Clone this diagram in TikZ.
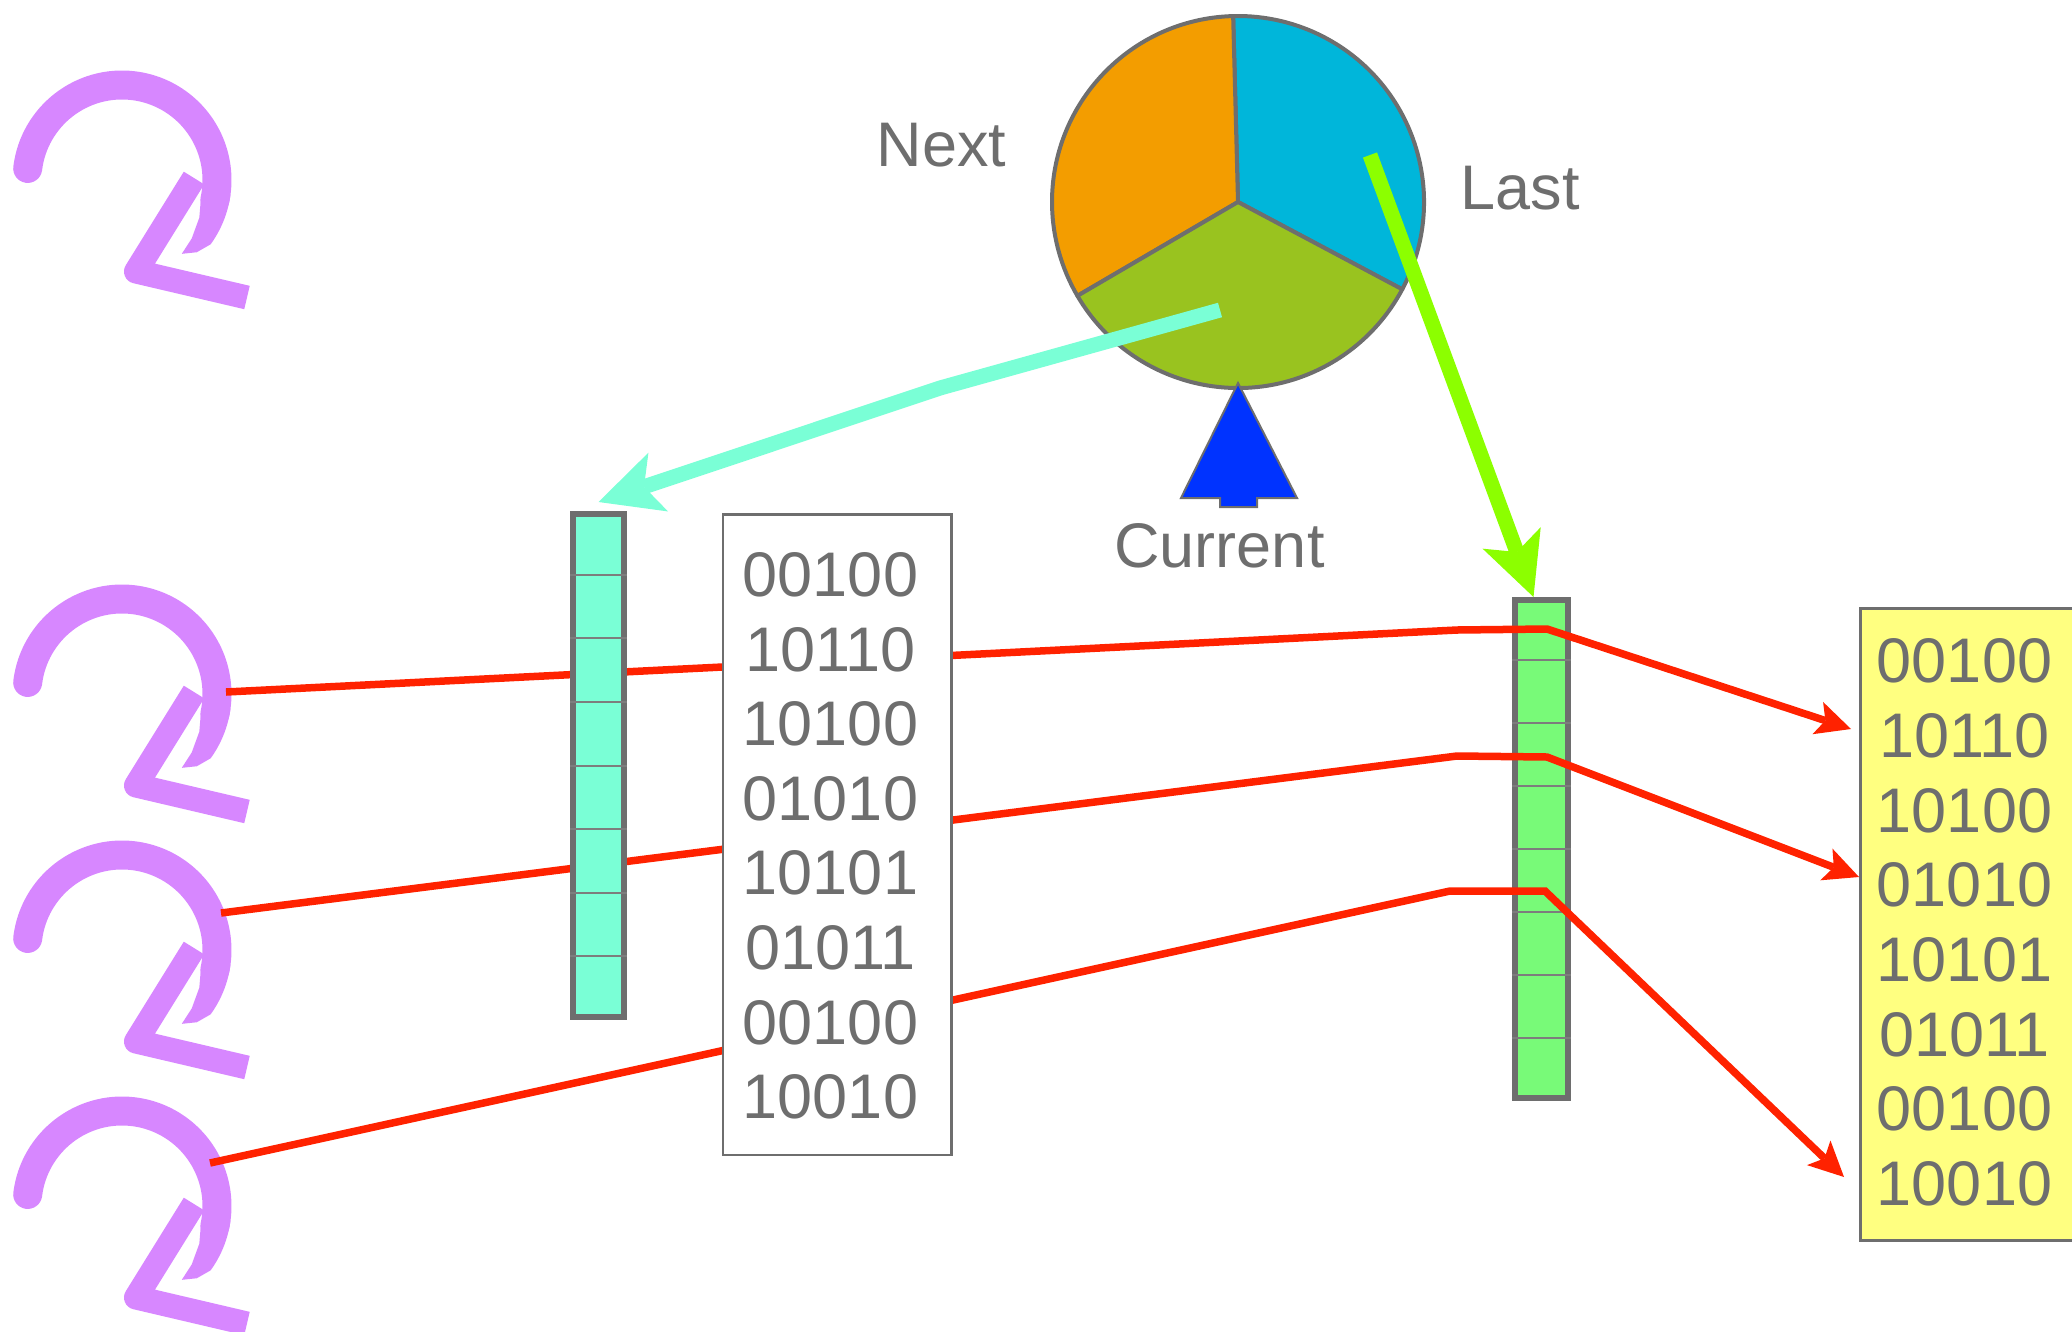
\documentclass[tikz,border=0pt]{standalone}
\usepackage{fontspec}
\setmainfont{Liberation Sans}
\usetikzlibrary{arrows.meta}

\definecolor{ink}{HTML}{6E6E6E}
\definecolor{brushpurple}{HTML}{D787FF}
\definecolor{sliceorange}{HTML}{F39D00}
\definecolor{sliceblue}{HTML}{00B6DA}
\definecolor{slicegreen}{HTML}{99C31F}
\definecolor{arrowaqua}{HTML}{7AFFD6}
\definecolor{arrowlime}{HTML}{8CFF00}
\definecolor{stripgreen}{HTML}{78FA78}
\definecolor{paleyellow}{HTML}{FFFF80}
\definecolor{wirered}{HTML}{FF2200}
\definecolor{pointerblue}{HTML}{0033FF}

\tikzstyle{word} = [text=ink, inner sep=0pt, font=\fontsize{63}{75}\selectfont]
\tikzstyle{frame} = [draw=ink, line width=2.5pt, inner sep=0pt]
\tikzstyle{strip} = [draw=ink, line width=6pt, inner sep=0pt]
\tikzstyle{divider} = [draw=ink!90, line width=2pt]
\tikzstyle{slice} = [draw=ink, line width=4pt, line join=round]
\tikzstyle{wire} = [draw=wirered, line width=7.5pt, -{Stealth[length=35pt, width=34pt, inset=8pt, line width=0pt]}]
\tikzstyle{fat} = [line width=15pt, -{Stealth[length=63pt, width=62pt, inset=15pt, line width=0pt]}]

\tikzset{
  pics/brushtwo/.style={code={
    % bowl, thinning out at its lower end
    \draw[brushpurple, line width=29pt, line cap=round] (173:95pt) arc[start angle=173, end angle=-12, radius=95pt];
    \fill[brushpurple] (-8:109.5pt) arc[start angle=-8, end angle=-36, radius=109.5pt] -- (-44:104pt) -- (-51:95pt)
      -- (-40:91pt) -- (-26:86pt) -- (-10:80.5pt) -- cycle;
    % stem and foot
    \draw[brushpurple, line width=24pt, line join=round] (72,2) -- (14,-91.5) -- (125,-117.5);
  }}
}

\begin{document}
\begin{tikzpicture}[x=1pt, y=1pt]
\useasboundingbox (0,0) rectangle (2072,-1331);

% painted twos on the left
\pic (twoA) at (122,-180) {brushtwo};
\pic (twoB) at (122,-694) {brushtwo};
\pic (twoC) at (122,-950) {brushtwo};
\pic (twoD) at (122,-1206) {brushtwo};

% right strip and the table behind it
\node[strip, fill=stripgreen, minimum width=53pt, minimum height=498pt] (rcol) at (1541.5,-849) {};
\foreach \k in {1,...,7}
  \draw[divider] (1512,{-597-63*\k}) -- (1571,{-597-63*\k});

\node[frame, line width=3pt, fill=paleyellow, minimum width=300pt, minimum height=632pt, anchor=north west] (ybox) at (1858.5,-606.5) {};
\foreach \bits [count=\i] in {00100,10110,10100,01010,10101,01011,00100,10010}
  \node[word] (yrow\i) at (1964.5,{-661-74.7*(\i-1)}) {\bits};

% red wires
\coordinate (srcA) at (226,-692);
\coordinate (srcB) at (221,-913);
\coordinate (srcC) at (210,-1163);
\coordinate (inA) at (1457,-630);
\coordinate (outA) at (1547,-629);
\coordinate (inB) at (1457,-756);
\coordinate (outB) at (1547,-757);
\coordinate (inC) at (1450,-891);
\coordinate (outC) at (1545,-891);
\coordinate (tipA) at (1851,-729);
\coordinate (tipB) at (1859,-877);
\coordinate (tipC) at (1844,-1177);

\draw[wire] (srcA) -- (inA) -- (outA) -- (tipA);
\draw[wire] (srcB) -- (inB) -- (outB) -- (tipB);
\draw[wire] (srcC) -- (inC) -- (outC) -- (tipC);

% left strip and the middle table, on top of the wires
\node[strip, fill=arrowaqua, minimum width=51pt, minimum height=503pt] (lcol) at (598.5,-765.5) {};
\foreach \k in {1,...,7}
  \draw[divider] (570,{-511-63.625*\k}) -- (627,{-511-63.625*\k});

\node[frame, fill=white, minimum width=228.7pt, minimum height=640.5pt] (bbox) at (837.1,-834.5) {};
\foreach \bits [count=\i] in {00100,10110,10100,01010,10101,01011,00100,10010}
  \node[word] (brow\i) at (830.5,{-575-74.57*(\i-1)}) {\bits};

% the wheel
\coordinate (wheel) at (1238,-202);
\filldraw[slice, fill=sliceblue] (wheel) -- ++(-28:186pt) arc[start angle=-28, end angle=91.5, radius=186pt] -- cycle;
\filldraw[slice, fill=sliceorange] (wheel) -- ++(91.5:186pt) arc[start angle=91.5, end angle=210.3, radius=186pt] -- cycle;
\filldraw[slice, fill=slicegreen] (wheel) -- ++(210.3:186pt) arc[start angle=210.3, end angle=332, radius=186pt] -- cycle;

% pointer under the wheel
\filldraw[fill=pointerblue, draw=ink, line width=2pt] (1238,-383) -- (1297,-498) -- (1257,-498) -- (1257,-507)
  -- (1220,-507) -- (1220,-498) -- (1181,-498) -- cycle;

\node[word] (next) at (941.5,-145) {Next};
\node[word] (last) at (1520,-188) {Last};
\node[word] (current) at (1219.5,-546) {Current};

% thick arrows out of the wheel
\coordinate (curslice) at (1220,-310);
\coordinate (aquaknee) at (940,-388);
\draw[fat, arrowaqua] (curslice) -- (aquaknee) -- ([yshift=9pt]lcol.north);

\coordinate (lastslice) at (1370,-155);
\draw[fat, arrowlime] (lastslice) -- ([xshift=-8pt]rcol.north);

\end{tikzpicture}
\end{document}
